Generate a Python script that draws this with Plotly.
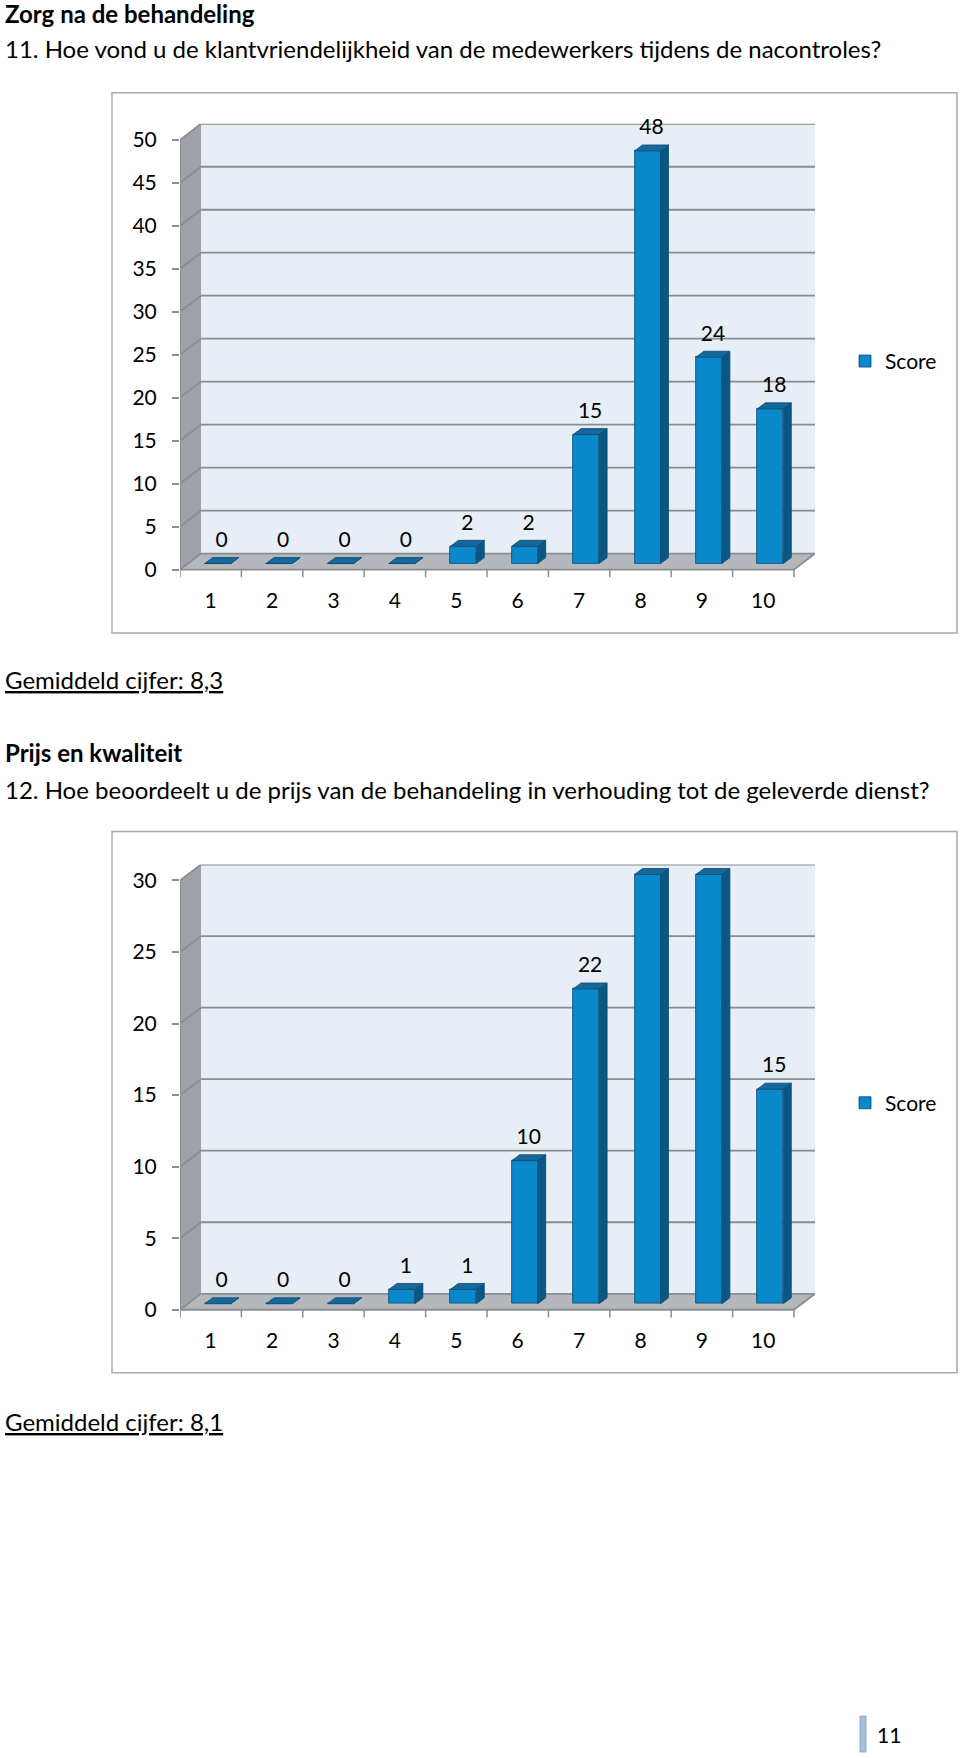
import plotly.graph_objects as go

# ---------------- data ----------------
categories = ["1", "2", "3", "4", "5", "6", "7", "8", "9", "10"]
q11_values = [0, 0, 0, 0, 2, 2, 15, 48, 24, 18]
q12_values = [0, 0, 0, 1, 1, 10, 22, 30, 30, 15]
q11_ticks = [0, 5, 10, 15, 20, 25, 30, 35, 40, 45, 50]
q12_ticks = [0, 5, 10, 15, 20, 25, 30]
series_name = "Score"

heading1 = "Zorg na de behandeling"
question11 = "11. Hoe vond u de klantvriendelijkheid van de medewerkers tijdens de nacontroles?"
average11 = "Gemiddeld cijfer: 8,3"
heading2 = "Prijs en kwaliteit"
question12 = "12. Hoe beoordeelt u de prijs van de behandeling in verhouding tot de geleverde dienst?"
average12 = "Gemiddeld cijfer: 8,1"
page_number = "11"

# ---------------- styling / geometry (pixels) ----------------
W, H = 960, 1758
FONT = "Lato, 'Open Sans', sans-serif"
TXT = 21          # chart text
PTXT = 24         # page text
PLOT_L = 180.0      # front-left edge of plot
CAT = 61.4          # px per category
DXP, DYP = 21.0, 16.0   # depth offset of back wall
BAR_XOFF, BAR_YOFF = 7.0, 6.0
BAR_W = 26.0
SIDE_X, SIDE_Y = 8.0, 6.0
LABEL_GAP = 16.0
TICK_DOWN = 8.0
BOX_X0, BOX_X1 = 112, 957

FRONT = "#0a88cc"
SIDE = "#0b5784"
TOP = "#16679a"
EDGE = "#0a4d75"
WALL = "#e8eef6"
SIDEWALL = "#9ea1a7"
FLOOR = "#b4b7bb"
GRID = "#8a8d91"


def py(px):
    return 1 - px / H


fig = go.Figure()
shapes = []
annotations = []


def add_chart(idx, values, ticks, zero_px, max_px, box_top, box_bot, legend_y):
    n = len(values)
    ymax = ticks[-1]
    scale = (zero_px - max_px) / ymax
    dx = DXP / CAT
    dy = DYP / scale
    ext = TICK_DOWN / scale
    xs = "" if idx == 1 else str(idx)
    xref, yref = "x" + xs, "y" + xs
    lg = "legend" if idx == 1 else "legend%d" % idx

    x0px = PLOT_L
    x1px = PLOT_L + CAT * n + DXP
    ybot = zero_px + TICK_DOWN
    ytop = max_px - DYP

    fig.layout["xaxis" + xs] = dict(
        domain=[x0px / W, x1px / W], range=[-0.5, n - 0.5 + dx], anchor=yref,
        tickvals=list(range(n)), ticktext=categories, showgrid=False,
        zeroline=False, showline=False, ticks="", ticklabelstandoff=8,
        tickfont=dict(family=FONT, size=TXT, color="black"), fixedrange=True)
    fig.layout["yaxis" + xs] = dict(
        domain=[py(ybot), py(ytop)], range=[-ext, ymax + dy], anchor=xref,
        tickvals=ticks, showgrid=False, zeroline=False, showline=False,
        ticks="outside", ticklen=7, tickwidth=1.5, tickcolor=GRID,
        ticklabelstandoff=11,
        tickfont=dict(family=FONT, size=TXT, color="black"), fixedrange=True)

    # chart box
    shapes.append(dict(type="rect", xref="paper", yref="paper",
                       x0=BOX_X0 / W, x1=BOX_X1 / W, y0=py(box_bot), y1=py(box_top),
                       line=dict(color="#a9a9a9", width=1.5), fillcolor="white",
                       layer="below"))

    L, R = -0.5, n - 0.5

    def poly(pts, fill, lc=None, lw=0):
        d = "M " + " L ".join("%f,%f" % p for p in pts) + " Z"
        shapes.append(dict(type="path", xref=xref, yref=yref, path=d,
                           fillcolor=fill, line=dict(color=lc or fill, width=lw),
                           layer="below"))

    def line(xa, ya, xb, yb, w=1.8, c=GRID):
        shapes.append(dict(type="line", xref=xref, yref=yref, x0=xa, y0=ya,
                           x1=xb, y1=yb, line=dict(color=c, width=w), layer="below"))

    # back wall, side wall, floor
    poly([(L + dx, dy), (R + dx, dy), (R + dx, ymax + dy), (L + dx, ymax + dy)], WALL)
    poly([(L, 0), (L, ymax), (L + dx, ymax + dy), (L + dx, dy)], SIDEWALL)
    poly([(L, 0), (R, 0), (R + dx, dy), (L + dx, dy)], FLOOR)
    # gridlines on back and side walls
    for v in ticks:
        line(L + dx, v + dy, R + dx, v + dy)
        line(L, v, L + dx, v + dy)
    # outer edges
    line(L, 0, L, ymax)
    line(L, 0, R, 0)
    line(R, 0, R + dx, dy)
    # category boundary tick marks
    for k in range(n + 1):
        line(L + k, 0, L + k, -ext, w=1.5)

    # bars
    xoff = BAR_XOFF / CAT
    yoff = BAR_YOFF / scale
    bw = BAR_W / CAT
    sx = SIDE_X / CAT
    sy = SIDE_Y / scale
    xc = [i + xoff for i in range(n)]
    fig.add_trace(go.Bar(
        x=xc, y=values, base=yoff, width=bw, name=series_name,
        marker=dict(color=FRONT, line=dict(color=EDGE, width=0.8)),
        xaxis=xref, yaxis=yref, legend=lg, showlegend=True, hoverinfo="skip"))

    top_x, top_y, side_x, side_y = [], [], [], []
    for c, v in zip(xc, values):
        l, r = c - bw / 2, c + bw / 2
        t = v + yoff
        top_x += [l, r, r + sx, l + sx, l, None]
        top_y += [t, t, t + sy, t + sy, t, None]
        side_x += [r, r + sx, r + sx, r, r, None]
        side_y += [yoff, yoff + sy, t + sy, t, yoff, None]
    fig.add_trace(go.Scatter(x=side_x, y=side_y, mode="lines", fill="toself",
                             fillcolor=SIDE, line=dict(color=EDGE, width=0.8),
                             xaxis=xref, yaxis=yref, showlegend=False, hoverinfo="skip"))
    fig.add_trace(go.Scatter(x=top_x, y=top_y, mode="lines", fill="toself",
                             fillcolor=TOP, line=dict(color=EDGE, width=0.8),
                             xaxis=xref, yaxis=yref, showlegend=False, hoverinfo="skip"))
    # data labels
    fig.add_trace(go.Scatter(
        x=[c + sx / 2 for c in xc],
        y=[v + yoff + sy + LABEL_GAP / scale for v in values],
        mode="text", text=[str(v) for v in values], textposition="middle center",
        textfont=dict(family=FONT, size=TXT, color="black"), cliponaxis=False,
        xaxis=xref, yaxis=yref, showlegend=False, hoverinfo="skip"))

    fig.layout[lg] = dict(x=845 / W, y=py(legend_y), xanchor="left", yanchor="middle",
                          bgcolor="rgba(0,0,0,0)", borderwidth=0,
                          font=dict(family=FONT, size=TXT, color="black"))


add_chart(1, q11_values, q11_ticks, zero_px=570.5, max_px=140.0,
          box_top=93, box_bot=634, legend_y=362)
add_chart(2, q12_values, q12_ticks, zero_px=1312.0, max_px=882.0,
          box_top=833, box_bot=1375, legend_y=1105)


def text(s, x, y, size=PTXT, bold=False, underline=False):
    if bold:
        s = "<b>%s</b>" % s
    if underline:
        s = "<u>%s</u>" % s
    annotations.append(dict(text=s, x=x / W, y=py(y), xref="paper", yref="paper",
                            xanchor="left", yanchor="middle", showarrow=False,
                            font=dict(family=FONT, size=size, color="black")))


text(heading1, 3, 14, bold=True)
text(question11, 3, 49)
text(average11, 3, 681, underline=True)
text(heading2, 3, 754, bold=True)
text(question12, 3, 791)
text(average12, 3, 1424, underline=True)
annotations.append(dict(text=page_number, x=889 / W, y=py(1737), xref="paper", yref="paper",
                        xanchor="center", yanchor="middle", showarrow=False,
                        font=dict(family=FONT, size=TXT, color="black")))
shapes.append(dict(type="rect", xref="paper", yref="paper", x0=860 / W, x1=866 / W,
                   y0=py(1755), y1=py(1719), fillcolor="#a9c0dc",
                   line=dict(color="#7f9fc6", width=0.8)))

fig.update_layout(width=W, height=H, margin=dict(l=0, r=0, t=0, b=0),
                  paper_bgcolor="white", plot_bgcolor="rgba(0,0,0,0)",
                  shapes=shapes, annotations=annotations, bargap=0,
                  barmode="overlay")

fig.write_html("out.html", config={"displayModeBar": False},
               post_script="document.body.style.margin='0px';document.body.style.overflow='hidden';")
